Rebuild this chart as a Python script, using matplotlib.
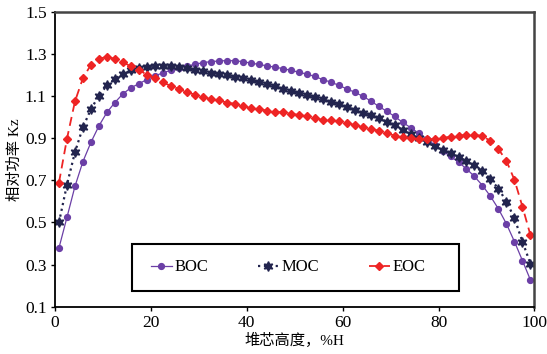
import numpy as np
import matplotlib
matplotlib.use("Agg")
import matplotlib.pyplot as plt
from matplotlib.patches import Rectangle

# 60 axial nodes, relative core height in %H
height = [(i + 0.5) * 100 / 60 for i in range(60)]

boc = [0.379, 0.524, 0.671, 0.789, 0.880, 0.958, 1.022, 1.069, 1.110, 1.139,
       1.158, 1.178, 1.195, 1.210, 1.222, 1.233, 1.242, 1.250, 1.258, 1.263,
       1.266, 1.268, 1.267, 1.263, 1.256, 1.250, 1.243, 1.237, 1.230, 1.222,
       1.213, 1.204, 1.193, 1.178, 1.166, 1.151, 1.134, 1.118, 1.099, 1.077,
       1.051, 1.028, 1.003, 0.975, 0.950, 0.924, 0.897, 0.868, 0.840, 0.813,
       0.786, 0.754, 0.718, 0.675, 0.624, 0.564, 0.493, 0.409, 0.319, 0.227]

moc = [0.500, 0.679, 0.833, 0.952, 1.037, 1.102, 1.150, 1.182, 1.205, 1.221,
       1.231, 1.237, 1.240, 1.241, 1.240, 1.237, 1.232, 1.225, 1.218, 1.211,
       1.203, 1.198, 1.192, 1.184, 1.175, 1.165, 1.155, 1.145, 1.135, 1.125,
       1.115, 1.105, 1.095, 1.084, 1.072, 1.060, 1.048, 1.034, 1.020, 1.008,
       0.995, 0.978, 0.960, 0.940, 0.918, 0.899, 0.880, 0.862, 0.845, 0.828,
       0.810, 0.790, 0.772, 0.744, 0.706, 0.660, 0.599, 0.520, 0.409, 0.304]

eoc = [0.689, 0.897, 1.074, 1.185, 1.248, 1.277, 1.285, 1.277, 1.261, 1.240,
       1.225, 1.200, 1.185, 1.164, 1.148, 1.133, 1.119, 1.106, 1.095, 1.085,
       1.079, 1.069, 1.063, 1.053, 1.042, 1.038, 1.031, 1.026, 1.022, 1.015,
       1.011, 1.003, 0.995, 0.987, 0.984, 0.979, 0.971, 0.963, 0.952, 0.943,
       0.936, 0.924, 0.912, 0.905, 0.900, 0.895, 0.895, 0.895, 0.900, 0.907,
       0.912, 0.915, 0.917, 0.909, 0.887, 0.848, 0.792, 0.702, 0.575, 0.440]

x_ticks = [0, 20, 40, 60, 80, 100]
y_ticks = [0.1, 0.3, 0.5, 0.7, 0.9, 1.1, 1.3, 1.5]

plt.rcParams['font.family'] = ['Liberation Serif', 'Noto Sans CJK SC']
plt.rcParams['font.size'] = 12

fig = plt.figure(figsize=(5.47, 3.54), dpi=100)
ax = fig.add_axes([0.1005, 0.1336, 0.8765, 0.8334])

ax.plot(height, boc, '-', color='#6b3fa6', lw=0.9, marker='o', ms=4.2,
        label='BOC')
ax.plot(height, moc, ':', color='#22244e', lw=1.6, marker=(6, 1, 0), ms=7,
        label='MOC')
ax.plot(height, eoc, '--', color='#ee2424', lw=1.3, dashes=(5, 3), marker='D',
        ms=3.6, label='EOC')

ax.set_xlim(0, 100)
ax.set_ylim(0.1, 1.5)
ax.set_xticks(x_ticks)
ax.set_yticks(y_ticks)
ax.set_yticklabels([f'{v:.1f}' for v in y_ticks])
ax.tick_params(direction='out', length=3, width=1, labelsize=12.5, pad=3)

for side in ['left', 'bottom']:
    ax.spines[side].set_linewidth(1.3)
    ax.spines[side].set_color('black')
for side in ['top', 'right']:
    ax.spines[side].set_linewidth(1.8)
    ax.spines[side].set_color('#444444')

ax.set_xlabel('堆芯高度，%H', fontsize=11, labelpad=1)
ax.set_ylabel('相对功率 Kz', fontsize=11, labelpad=2)

# legend box drawn separately, it is wider than its entries
box = Rectangle((0.16, 0.054), 0.683, 0.158, transform=ax.transAxes,
                facecolor='white', edgecolor='black', lw=1.5, zorder=5)
ax.add_patch(box)
leg = ax.legend(ncol=3, loc='center', bbox_to_anchor=(0.486, 0.133),
                frameon=False, fontsize=12, handlelength=1.25,
                handletextpad=0.15, columnspacing=3.0, borderaxespad=0)
leg.set_zorder(6)

fig.savefig('out.png', dpi=100)
